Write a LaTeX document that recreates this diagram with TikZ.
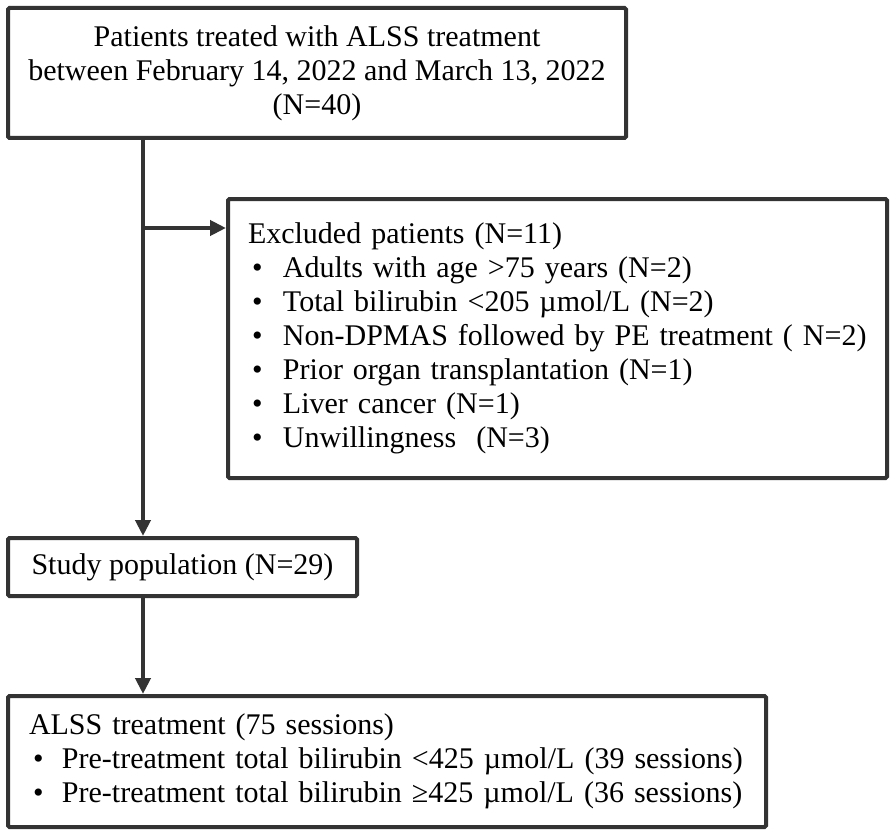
\documentclass[tikz,border=0pt]{standalone}
\usepackage{fontspec}
\setmainfont{Liberation Serif}
\usetikzlibrary{arrows.meta}
\definecolor{ink}{HTML}{333333}
\newcommand{\bul}[1]{\makebox[#1][l]{\hspace{4pt}•}}
\begin{document}
\begin{tikzpicture}[x=1pt,y=-1pt,
  box/.style={draw=ink, line width=4pt, rounded corners=1.5pt, outer sep=0pt, inner sep=0pt,
    font=\fontsize{30}{34}\selectfont, text=black},
  conn/.style={draw=ink, line width=4pt, shorten >=2pt, -{Triangle[length=16pt,width=15pt]}}]
\useasboundingbox (0,0) rectangle (896,837);
\node[box, minimum width=618pt, minimum height=130pt, align=center] (top) at (317,73)
  {Patients treated with ALSS treatment\\between February 14, 2022 and March 13, 2022\\(N=40)};
\node[box, minimum width=659pt, minimum height=279pt, inner xsep=20pt, text width=619pt, align=left] (excl) at (557.5,338.5)
  {Excluded patients (N=11)\\
   \bul{35pt}Adults with age >75 years (N=2)\\
   \bul{35pt}Total bilirubin <205 µmol/L (N=2)\\
   \bul{35pt}Non-DPMAS followed by PE treatment ( N=2)\\
   \bul{35pt}Prior organ transplantation (N=1)\\
   \bul{35pt}Liver cancer (N=1)\\
   \bul{35pt}Unwillingness\ \ (N=3)};
\node[box, minimum width=349pt, minimum height=58pt, align=center] (study) at (182.5,567)
  {Study population (N=29)};
\node[box, minimum width=758pt, minimum height=131pt, inner xsep=21pt, text width=716pt, align=left] (alss) at (387,761.5)
  {ALSS treatment (75 sessions)\\
   \bul{33pt}Pre-treatment total bilirubin <425 µmol/L (39 sessions)\\
   \bul{33pt}Pre-treatment total bilirubin ≥425 µmol/L (36 sessions)};
\coordinate (j) at (143,228);
\draw[conn] (top.south -| j) -- (study.north -| j);
\draw[conn] (j) -- (excl.west |- j);
\draw[conn] (study.south -| j) -- (alss.north -| j);
\end{tikzpicture}
\end{document}
